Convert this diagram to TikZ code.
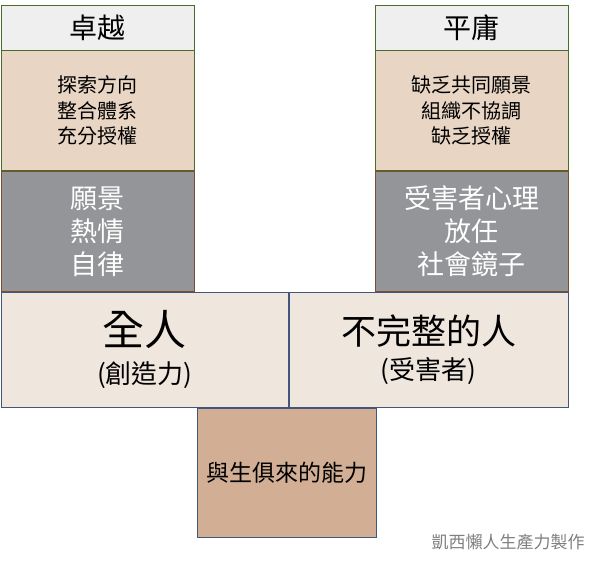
\documentclass[tikz,border=0pt]{standalone}
\usepackage{fontspec}
\newfontfamily\cjk{Noto Sans CJK TC}
\usetikzlibrary{positioning}
\definecolor{headfill}{HTML}{EFEFEF}
\definecolor{leafgreen}{HTML}{4A6B2C}
\definecolor{tanfill}{HTML}{E8D5C4}
\definecolor{barkbrown}{HTML}{7A4E2E}
\definecolor{slatefill}{HTML}{939598}
\definecolor{inkblue}{HTML}{42557A}
\definecolor{creamfill}{HTML}{EFE6DD}
\definecolor{rootfill}{HTML}{D2AE95}
\tikzset{every node/.style={align=center, inner sep=0pt, line width=0.8pt},
  head/.style={draw=leafgreen, fill=headfill, minimum width=193pt, minimum height=45pt, font=\cjk\fontsize{28}{32}\selectfont},
  trait/.style={draw=leafgreen, fill=tanfill, minimum width=193pt, minimum height=120pt, font=\cjk\fontsize{20}{25.5}\selectfont},
  mind/.style={draw=barkbrown, fill=slatefill, text=white, minimum width=193pt, minimum height=120pt, font=\cjk\fontsize{27}{33}\selectfont},
  person/.style={draw=inkblue, fill=creamfill, minimum height=115pt, font=\cjk\fontsize{26}{30}\selectfont},
  root/.style={draw=inkblue, fill=rootfill, minimum width=179pt, minimum height=129pt, font=\cjk\fontsize{23}{27}\selectfont}}

\begin{document}
\begin{tikzpicture}[x=1pt, y=-1pt]
	\useasboundingbox (0,0) rectangle (606,561);
	\node[person, minimum width=287pt, anchor=north west] (whole) at (1,292)
		{{\fontsize{42}{46}\selectfont 全人}\\[8pt](創造力)};
	\node[person, minimum width=279pt, right=0pt of whole] (broken)
		{{\fontsize{35}{40}\selectfont 不完整的人}\\[5pt](受害者)};
	\node[root, below=0pt of whole.south east, xshift=-2pt] (gift) {與生俱來的能力};
	% left column
	\node[mind, anchor=south west] (vision) at (whole.north west) {願景\\熱情\\自律};
	\node[trait, above=0pt of vision] (explore) {探索方向\\整合體系\\充分授權};
	\node[head, above=0pt of explore] (excel) {卓越};
	% right column
	\node[mind, anchor=south east] (victim) at (broken.north east) {受害者心理\\放任\\社會鏡子};
	\node[trait, above=0pt of victim] (lack) {缺乏共同願景\\組織不協調\\缺乏授權};
	\node[head, above=0pt of lack] (medio) {平庸};
	\node[font=\cjk\fontsize{17}{20}\selectfont, text=gray] (credit) at (508,542) {凱西懶人生產力製作};
\end{tikzpicture}
\end{document}
